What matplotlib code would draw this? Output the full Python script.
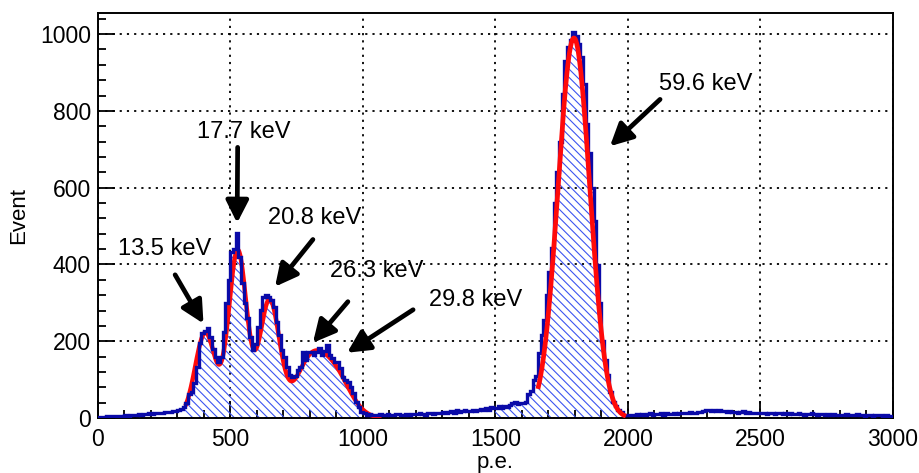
import numpy as np
import matplotlib
matplotlib.use("Agg")
import matplotlib.pyplot as plt
from matplotlib.ticker import MultipleLocator

# ---- histogram: p.e. spectrum, 10 p.e. bins from 0 to 3000 ----
bin_edges = np.arange(0, 3001, 10)
counts = [
    # 0 - 300
    2, 3, 3, 4, 4, 5, 4, 6, 5, 6,
    7, 6, 8, 9, 8, 10, 9, 11, 10, 12,
    11, 13, 12, 14, 13, 15, 16, 15, 17, 18,
    # 300 - 600
    20, 24, 28, 40, 62, 68, 90, 134, 195, 222,
    226, 235, 212, 180, 160, 146, 158, 225, 300, 360,
    433, 440, 483, 420, 352, 300, 260, 212, 177, 192,
    # 600 - 900
    238, 282, 316, 320, 316, 308, 290, 250, 215, 177,
    160, 134, 112, 107, 110, 125, 134, 172, 151, 172,
    172, 164, 172, 183, 164, 175, 190, 164, 157, 146,
    # 900 - 1200
    146, 130, 107, 100, 94, 81, 65, 42, 29, 16,
    12, 8, 10, 7, 9, 8, 10, 9, 8, 10,
    9, 8, 10, 11, 9, 8, 10, 9, 11, 10,
    # 1200 - 1500
    10, 12, 11, 9, 12, 13, 11, 12, 14, 13,
    15, 13, 16, 18, 14, 21, 16, 18, 20, 17,
    19, 22, 18, 21, 24, 22, 26, 20, 29, 25,
    # 1500 - 1800
    27, 30, 26, 32, 28, 34, 40, 42, 36, 39,
    39, 42, 62, 70, 100, 110, 170, 215, 255, 320,
    380, 443, 560, 640, 720, 843, 930, 966, 985, 1005,
    # 1800 - 2100
    995, 974, 940, 869, 765, 690, 600, 512, 399, 300,
    200, 150, 112, 68, 42, 30, 22, 15, 9, 7,
    8, 9, 7, 10, 8, 11, 9, 10, 12, 9,
    # 2100 - 2400
    11, 10, 12, 9, 13, 11, 10, 12, 11, 13,
    12, 14, 13, 15, 12, 14, 16, 15, 17, 20,
    21, 19, 22, 18, 20, 17, 19, 16, 18, 15,
    # 2400 - 2700
    16, 14, 15, 17, 13, 15, 14, 12, 14, 13,
    12, 13, 11, 14, 12, 11, 13, 12, 10, 12,
    11, 12, 10, 11, 13, 10, 9, 11, 10, 12,
    # 2700 - 3000
    10, 9, 11, 10, 8, 10, 9, 11, 8, 9,
    9, 8, 10, 7, 9, 8, 10, 7, 8, 6,
    8, 7, 6, 8, 7, 9, 6, 7, 5, 6,
]

# hatched (fitted) ranges of the histogram, in p.e.
fill_ranges = [(330, 1000), (1500, 2000)]

# ---- fit results: Gaussian components (mean, sigma, amplitude) ----
low_fit_range = (330, 1070)
low_means = [405, 527, 647, 795, 890]
low_sigmas = [38, 34, 38, 55, 60]
low_amps = [222, 435, 305, 130, 115]

high_fit_range = (1660, 1992)
high_mean = 1796
high_sigma = 60
high_amp = 990

# ---- peak labels: text, text position, arrow tail, arrow head ----
peak_labels = ["13.5 keV", "17.7 keV", "20.8 keV", "26.3 keV", "29.8 keV", "59.6 keV"]
label_xy = [(253, 439), (551, 744), (819, 522), (1053, 384), (1426, 308), (2294, 869)]
arrow_tail = [(291, 373), (527, 705), (811, 465), (943, 303), (1189, 282), (2121, 830)]
arrow_head = [(398, 246), (525, 508), (668, 342), (811, 196), (940, 170), (1932, 708)]

plt.rcParams["font.family"] = ["Liberation Sans", "DejaVu Sans"]
plt.rcParams["hatch.linewidth"] = 0.8

fig = plt.figure(figsize=(9.2, 4.73), dpi=100)
ax = fig.add_axes([98 / 920, 55 / 473, 795 / 920, 405 / 473])

counts = np.asarray(counts, dtype=float)
edges = np.asarray(bin_edges, dtype=float)

hist_blue = "#0a0aa8"
hatch_blue = "#3c55f0"
fit_red = "#ff0a0a"

# hatched fill under the fitted parts of the spectrum
for lo, hi in fill_ranges:
    i0 = int(np.searchsorted(edges, lo))
    i1 = int(np.searchsorted(edges, hi))
    ax.stairs(counts[i0:i1], edges[i0:i1 + 1], fill=True, facecolor="none",
              edgecolor=hatch_blue, hatch="\\\\\\\\", linewidth=0, zorder=2)


def gauss(x, a, m, s):
    return a * np.exp(-0.5 * ((x - m) / s) ** 2)


x_low = np.linspace(*low_fit_range, 600)
y_low = sum(gauss(x_low, a, m, s) for a, m, s in zip(low_amps, low_means, low_sigmas))
x_high = np.linspace(*high_fit_range, 400)
y_high = gauss(x_high, high_amp, high_mean, high_sigma)

ax.plot(x_low, y_low, color=fit_red, lw=3.2, zorder=3, solid_capstyle="butt")
ax.stairs(counts, edges, color=hist_blue, lw=2.4, zorder=4)
ax.plot(x_high, y_high, color=fit_red, lw=3.4, zorder=5, solid_capstyle="butt")

# annotations
for txt, pos, tail, head in zip(peak_labels, label_xy, arrow_tail, arrow_head):
    ax.text(pos[0], pos[1], txt, fontsize=17, ha="center", va="center", zorder=6)
    ax.annotate("", xy=head, xytext=tail,
                arrowprops=dict(arrowstyle="-|>,head_length=0.75,head_width=0.38",
                                lw=3.4, color="black", mutation_scale=18,
                                shrinkA=0, shrinkB=0),
                zorder=6)

ax.set_xlim(0, 3000)
ax.set_ylim(0, 1055)

ax.xaxis.set_major_locator(MultipleLocator(500))
ax.xaxis.set_minor_locator(MultipleLocator(100))
ax.yaxis.set_major_locator(MultipleLocator(200))
ax.yaxis.set_minor_locator(MultipleLocator(40))

ax.tick_params(which="both", direction="in", top=False, right=False,
               labelsize=16.5, width=1.3, colors="black")
ax.tick_params(which="major", length=12)
ax.tick_params(which="minor", length=6)
ax.tick_params(axis="x", pad=7)
ax.tick_params(axis="y", pad=5)

ax.grid(True, which="major", color="black", linestyle=(0, (1.2, 2.8)), lw=1.3)
ax.set_axisbelow(True)
for sp in ax.spines.values():
    sp.set_linewidth(1.4)

ax.set_xlabel("p.e.", fontsize=16, labelpad=1)
ax.set_ylabel("Event", fontsize=16, labelpad=8)

fig.savefig("out.png", dpi=100)
